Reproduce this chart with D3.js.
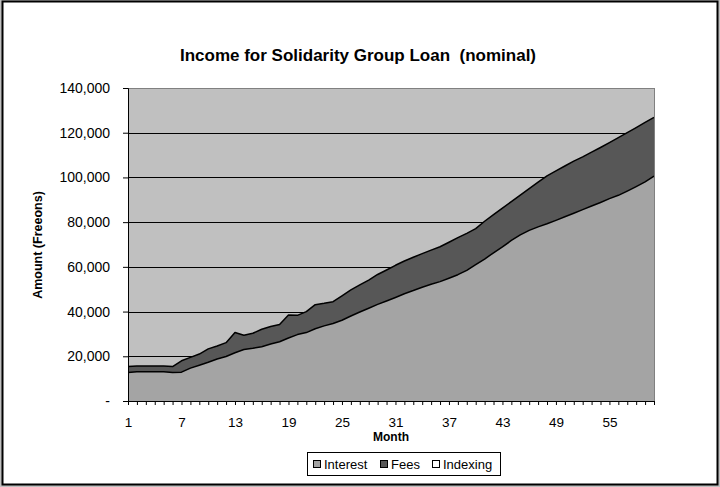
<!DOCTYPE html>
<html>
<head>
<meta charset="utf-8">
<script src="https://cdn.jsdelivr.net/npm/d3@7"></script>
<style>
  body { margin: 0; background: #fff; }
  svg { display: block; font-family: "Liberation Sans", Arial, sans-serif; }
</style>
</head>
<body>
<svg id="chart" width="720" height="487"></svg>
<script>
// months 1..60
const months = d3.range(1, 61);

// Interest income per month
const interest = [
  12700, 13100, 13100, 13100, 13100, 12800, 12900, 14700, 16000, 17300,
  18800, 19900, 21600, 23000, 23600, 24300, 25500, 26500, 28200, 29700,
  30600, 32300, 33600, 34700, 36100, 38000, 39800, 41500, 43200, 44700,
  46300, 48000, 49400, 50900, 52200, 53400, 54900, 56500, 58400, 61000,
  63500, 66300, 68900, 71800, 74300, 76300, 77900, 79300, 80800, 82400,
  84000, 85600, 87200, 88800, 90500, 92000, 93900, 95900, 98000, 100600
];

// Fee income per month
const fees = [
  2700, 2600, 2600, 2600, 2600, 2600, 5100, 4800, 5000, 6000,
  5800, 6200, 9000, 6400, 6700, 7800, 7800, 7700, 10300, 8600,
  9400, 10800, 10100, 9700, 10900, 11700, 12100, 12600, 13400, 13900,
  14400, 14600, 14900, 15000, 15300, 15600, 16100, 16600, 16600, 16100,
  16900, 17100, 17400, 17400, 17800, 18700, 20000, 21400, 22100, 22700,
  23300, 23600, 24100, 24600, 25100, 25800, 26100, 26400, 26600, 26300
];

// Indexing income (nothing in nominal terms)
const indexing = months.map(() => 0);

const seriesNames = ["Interest", "Fees", "Indexing"];
const seriesColors = ["#a4a4a4", "#575757", "#ffffff"];
const yTicks = [0, 20000, 40000, 60000, 80000, 100000, 120000, 140000];
const xLabelMonths = [1, 7, 13, 19, 25, 31, 37, 43, 49, 55];

const rows = months.map((m, i) => ({
  month: m, Interest: interest[i], Fees: fees[i], Indexing: indexing[i]
}));

const svg = d3.select("#chart");
const W = 720, H = 487;
const plot = { left: 128, right: 654, top: 88, bottom: 401 };
const font = "'Liberation Sans', Arial, sans-serif";

// outer frame
svg.append("rect").attr("x", 0).attr("y", 0).attr("width", W).attr("height", H).attr("fill", "#c0c0c0");
svg.append("rect").attr("x", 2.5).attr("y", 1.5).attr("width", W - 5).attr("height", H - 4)
  .attr("fill", "#fff").attr("stroke", "#000").attr("stroke-width", 2);

const x = d3.scaleLinear().domain([1, 60]).range([plot.left, plot.right]);
const y = d3.scaleLinear().domain([0, 140000]).range([plot.bottom, plot.top]);

// plot background
svg.append("rect")
  .attr("x", plot.left).attr("y", plot.top)
  .attr("width", plot.right - plot.left).attr("height", plot.bottom - plot.top)
  .attr("fill", "#c0c0c0");

// gridlines
svg.append("g").selectAll("line")
  .data(yTicks.filter(d => d > 0 && d < 140000))
  .join("line")
  .attr("x1", plot.left).attr("x2", plot.right)
  .attr("y1", d => Math.round(y(d)) + 0.5).attr("y2", d => Math.round(y(d)) + 0.5)
  .attr("stroke", "#000").attr("stroke-width", 1);

// stacked areas
const stack = d3.stack().keys(seriesNames);
const stacked = stack(rows);

const area = d3.area()
  .x(d => x(d.data.month))
  .y0(d => y(d[0]))
  .y1(d => y(d[1]));

const topLine = d3.line()
  .x(d => x(d.data.month))
  .y(d => y(d[1]));

svg.append("g").selectAll("path.area")
  .data(stacked.slice(0, 2))
  .join("path")
  .attr("class", "area")
  .attr("d", area)
  .attr("fill", (d, i) => seriesColors[i]);

svg.append("g").selectAll("path.edge")
  .data(stacked.slice(0, 2))
  .join("path")
  .attr("class", "edge")
  .attr("d", topLine)
  .attr("fill", "none")
  .attr("stroke", "#000")
  .attr("stroke-width", 1.5)
  .attr("stroke-linejoin", "round");

// plot border
svg.append("rect")
  .attr("x", plot.left + 0.5).attr("y", plot.top + 0.5)
  .attr("width", plot.right - plot.left).attr("height", plot.bottom - plot.top)
  .attr("fill", "none").attr("stroke", "#808080").attr("stroke-width", 1);

// y axis
const yAxis = d3.axisLeft(y)
  .tickValues(yTicks)
  .tickSize(5)
  .tickPadding(13)
  .tickFormat(d => d === 0 ? "-" : d3.format(",")(d));

svg.append("g")
  .attr("transform", `translate(${plot.left},0)`)
  .call(yAxis)
  .call(g => g.select(".domain").attr("stroke", "#000"))
  .call(g => g.selectAll("line").attr("stroke", "#000"))
  .call(g => g.selectAll("text").attr("font-size", 14).attr("fill", "#000")
    .attr("font-family", font));

// x axis
const xAxis = d3.axisBottom(x)
  .tickValues(months)
  .tickSize(4)
  .tickPadding(12)
  .tickFormat(d => xLabelMonths.includes(d) ? d : "");

svg.append("g")
  .attr("transform", `translate(0,${plot.bottom})`)
  .call(xAxis)
  .call(g => g.select(".domain").attr("d", `M${plot.left},0.5H${plot.right}`).attr("stroke", "#000"))
  .call(g => g.selectAll("line").attr("stroke", "#000"))
  .call(g => g.selectAll("text").attr("font-size", 13.5).attr("fill", "#000")
    .attr("font-family", font));

// titles
svg.append("text")
  .attr("x", 358).attr("y", 61)
  .attr("text-anchor", "middle")
  .attr("font-size", 17).attr("font-weight", "bold")
  .style("white-space", "pre")
  .text("Income for Solidarity Group Loan  (nominal)");

svg.append("text")
  .attr("x", 391).attr("y", 441)
  .attr("text-anchor", "middle")
  .attr("font-size", 12).attr("font-weight", "bold")
  .text("Month");

svg.append("text")
  .attr("transform", "translate(42,245) rotate(-90)")
  .attr("text-anchor", "middle")
  .attr("font-size", 12.5).attr("font-weight", "bold")
  .text("Amount (Freeons)");

// legend
const legend = svg.append("g");
legend.append("rect")
  .attr("x", 307.5).attr("y", 452.5).attr("width", 193).attr("height", 23)
  .attr("fill", "#fff").attr("stroke", "#000");

const legendX = [313, 380, 432];
seriesNames.forEach((name, i) => {
  legend.append("rect")
    .attr("x", legendX[i] + 0.5).attr("y", 460.5).attr("width", 7).attr("height", 7)
    .attr("fill", seriesColors[i]).attr("stroke", "#000");
  legend.append("text")
    .attr("x", legendX[i] + 11).attr("y", 469)
    .attr("font-size", 13)
    .text(name);
});
</script>
</body>
</html>
